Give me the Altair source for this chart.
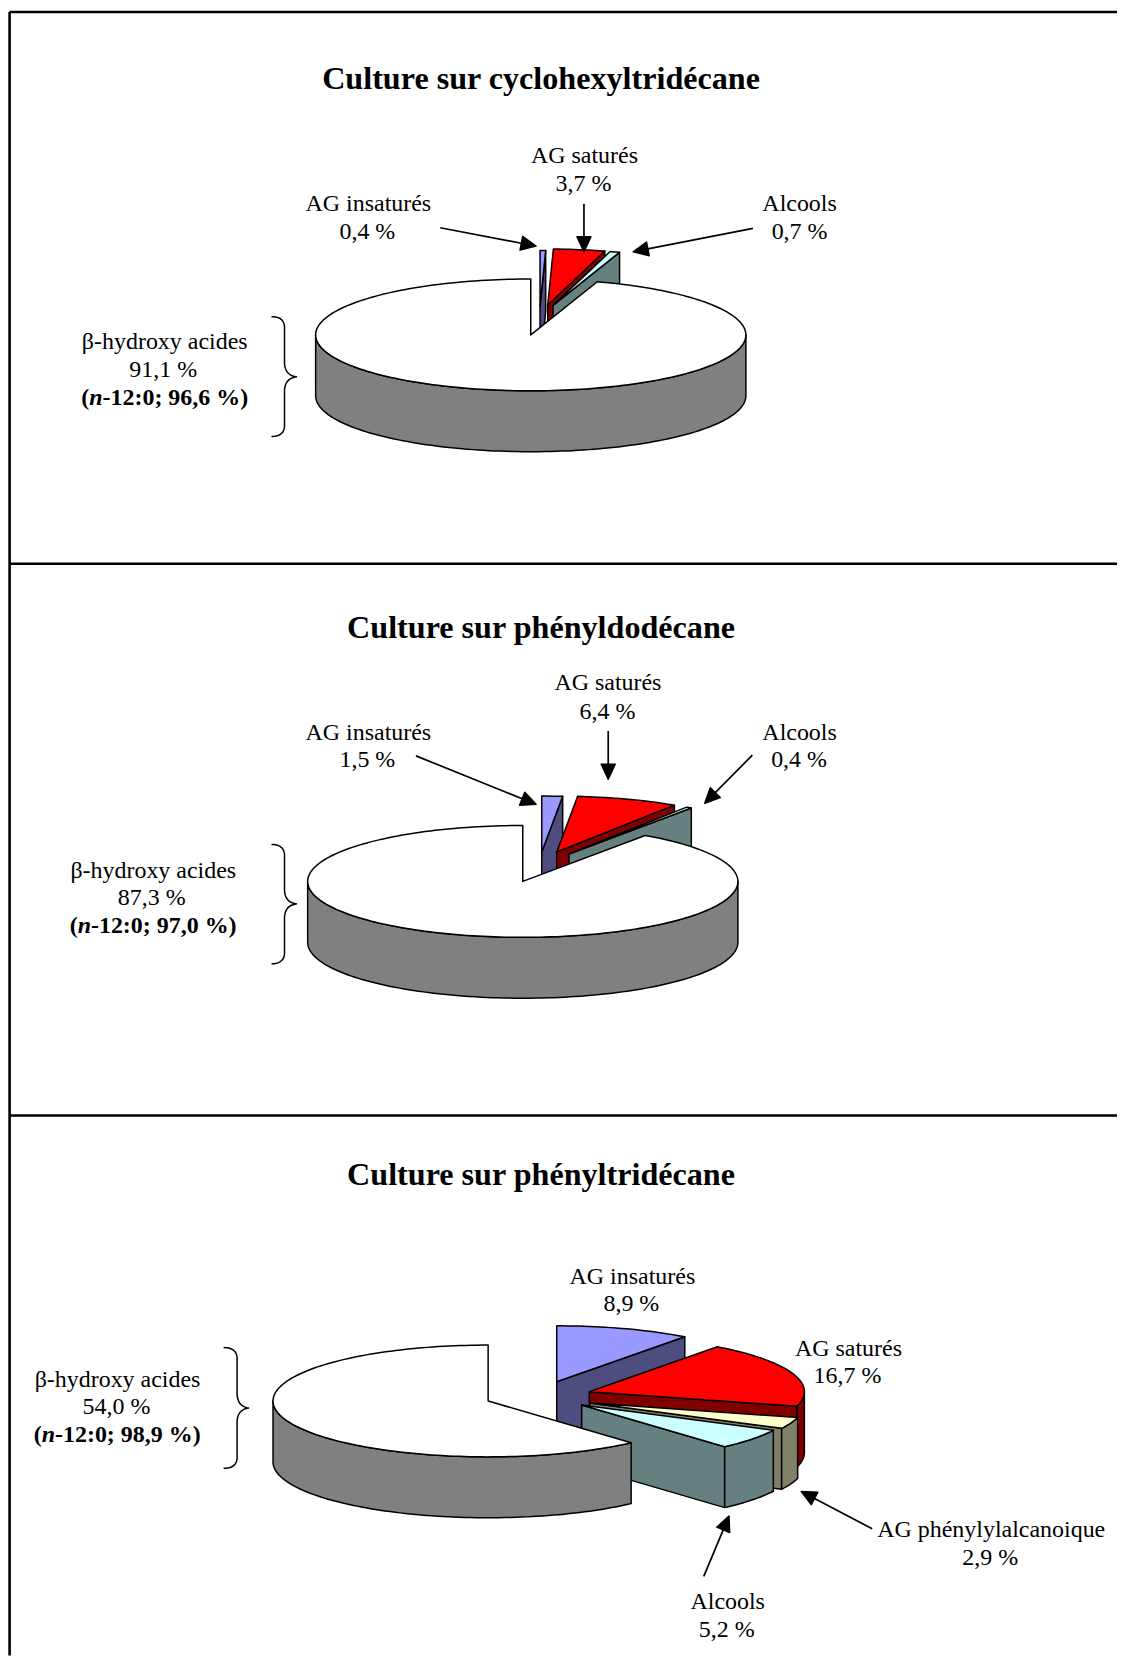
import math
import altair as alt
import pandas as pd

# ---- values ----
TITLES = ["Culture sur cyclohexyltridécane", "Culture sur phényldodécane", "Culture sur phényltridécane"]
SLICE_NAMES_1 = ["AG insaturés", "AG saturés", "Alcools", "β-hydroxy acides"]
SLICE_VALUES_1 = [0.4, 3.7, 0.7, 91.1]
SLICE_NAMES_2 = ["AG insaturés", "AG saturés", "Alcools", "β-hydroxy acides"]
SLICE_VALUES_2 = [1.5, 7.4, 0.4, 87.3]
SLICE_NAMES_3 = ["AG insaturés", "AG saturés", "AG phénylylalcanoique", "Alcools", "β-hydroxy acides"]
SLICE_VALUES_3 = [8.9, 16.7, 2.9, 5.2, 54.0]

TOP_COLORS = {"AG insaturés": "#9999FF", "AG saturés": "#FF0000", "AG phénylylalcanoique": "#FFFFCC",
              "Alcools": "#CCFFFF", "β-hydroxy acides": "#FFFFFF"}
SIDE_COLORS = {"AG insaturés": "#4D4D80", "AG saturés": "#800000", "AG phénylylalcanoique": "#808066",
               "Alcools": "#668080", "β-hydroxy acides": "#808080"}

# ---- layout (image pixels) ----
W, H = 1111, 1651
RX, RY, DEPTH = 215.5, 56, 61
APEX_1 = {"AG insaturés": (540, 305.5), "AG saturés": (547.7, 304), "Alcools": (553, 304.5), "β-hydroxy acides": (530.7, 334)}
APEX_2 = {"AG insaturés": (541.7, 852), "AG saturés": (556.7, 852), "Alcools": (569, 854), "β-hydroxy acides": (522.7, 881.5)}
APEX_3 = {"AG insaturés": (556.7, 1382.7), "AG saturés": (589.3, 1392.7), "AG phénylylalcanoique": (590, 1404),
          "Alcools": (581.7, 1406), "β-hydroxy acides": (488, 1402)}

polys = []
pid = [0]


def add_poly(pts, fill):
    pid[0] += 1
    for i, (x, y) in enumerate(pts):
        polys.append({"p": f"p{pid[0]:03d}", "i": i, "x": x, "y": y, "fill": fill})


def pie3d(names, values, apexes):
    total = sum(values)
    t = 0.0
    for name, v in zip(names, values):
        t0, t1 = t, t + v / total * 360.0
        t = t1
        cx, cy = apexes[name]

        def pt(a, dz=0.0):
            r = math.radians(a)
            return (cx + RX * math.sin(r), cy - RY * math.cos(r) + dz)

        def arc(a0, a1, dz=0.0):
            n = max(2, int(abs(a1 - a0) / 1.5) + 1)
            return [pt(a0 + (a1 - a0) * k / n, dz) for k in range(n + 1)]

        if t1 < 180:  # radial wall facing the viewer
            e = pt(t1)
            add_poly([(cx, cy), e, (e[0], e[1] + DEPTH), (cx, cy + DEPTH)], SIDE_COLORS[name])
        a0, a1 = max(t0, 90), min(t1, 270)
        if a1 > a0:  # outer wall
            add_poly(arc(a0, a1) + arc(a1, a0, DEPTH), SIDE_COLORS[name])
        add_poly([(cx, cy)] + arc(t0, t1), TOP_COLORS[name])


pie3d(SLICE_NAMES_1, SLICE_VALUES_1, APEX_1)
pie3d(SLICE_NAMES_2, SLICE_VALUES_2, APEX_2)
pie3d(SLICE_NAMES_3, SLICE_VALUES_3, APEX_3)

ARROWS = [
    (440, 226.7, 536, 245), (584, 202.7, 584, 250.7), (753.3, 227.3, 633.3, 250.7),
    (415.7, 755.7, 536, 804.3), (608.3, 730.7, 608.3, 779), (752.7, 755, 705, 803.3),
    (872.7, 1530, 801.7, 1492.7), (704, 1577.7, 729.3, 1517.3),
]
shafts = []
for x0, y0, x1, y1 in ARROWS:
    L = math.hypot(x1 - x0, y1 - y0)
    ux, uy = (x1 - x0) / L, (y1 - y0) / L
    bx, by = x1 - 15 * ux, y1 - 15 * uy
    shafts.append({"x": x0, "y": y0, "x2": bx, "y2": by})
    add_poly([(x1, y1), (bx - 7 * uy, by + 7 * ux), (bx + 7 * uy, by - 7 * ux)], "#000000")

BRACES = [(271, 284, 296.5, 315.7, 376, 435.7), (271, 284, 296.5, 844.5, 904, 964), (223, 236.5, 248.5, 1348.5, 1409, 1469.5)]
brace_rows = []


def quad(p0, c, p1, n=10):
    return [((1 - s) ** 2 * p0[0] + 2 * s * (1 - s) * c[0] + s * s * p1[0],
             (1 - s) ** 2 * p0[1] + 2 * s * (1 - s) * c[1] + s * s * p1[1]) for s in [k / n for k in range(n + 1)]]


for b, (xa, xm, xt, ya, ym, yb) in enumerate(BRACES):
    pts = (quad((xa, ya), (xm + 1, ya), (xm, ya + 13)) + quad((xm, ym - 13), (xm + 1, ym - 1), (xt, ym))
           + quad((xt, ym), (xm + 1, ym + 1), (xm, ym + 13)) + quad((xm, yb - 13), (xm + 1, yb), (xa, yb)))
    for i, (x, y) in enumerate(pts):
        brace_rows.append({"b": f"b{b}", "i": i, "x": x, "y": y})

LABELS = [
    ("AG saturés", 584.5, 161.5), ("3,7 %", 583.5, 190), ("AG insaturés", 368, 210), ("0,4 %", 367, 237.5),
    ("Alcools", 800, 210), ("0,7 %", 800, 237.5), ("β-hydroxy acides", 164, 348), ("91,1 %", 162.5, 376),
    ("AG saturés", 608, 689.5), ("6,4 %", 607.5, 719), ("AG insaturés", 368, 739.5), ("1,5 %", 367, 766.5),
    ("Alcools", 800, 739.5), ("0,4 %", 799.5, 766.5), ("β-hydroxy acides", 152.5, 878), ("87,3 %", 151, 905),
    ("AG insaturés", 632.5, 1285), ("8,9 %", 631.5, 1312), ("AG saturés", 849, 1357), ("16,7 %", 848, 1384),
    ("AG phénylylalcanoique", 992, 1538), ("2,9 %", 991, 1566), ("Alcools", 728, 1610), ("5,2 %", 727, 1638),
    ("β-hydroxy acides", 116.7, 1387.5), ("54,0 %", 115.7, 1415.5),
]
BOLD_PARTS = [(80.4, 404, "96,6"), (68.8, 933, "97,0"), (32.8, 1443.5, "98,9")]
TITLE_POS = [(541, 87.8), (541, 637.5), (541, 1186)]

bold_rows, ital_rows = [], []
for x0, y0, val in BOLD_PARTS:
    bold_rows.append({"t": "(", "x": x0, "y": y0})
    ital_rows.append({"t": "n", "x": x0 + 8, "y": y0})
    bold_rows.append({"t": f"-12:0; {val} %)", "x": x0 + 21.3, "y": y0})

FRAME = [(8.5, 10.5, 1118, 10.5), (8.5, 563.2, 1118, 563.2), (8.5, 1116, 1118, 1116), (8.6, 10.5, 8.6, 1657)]

X = alt.X("x:Q", scale=alt.Scale(domain=[8, 8 + W], range=[0, W], nice=False, zero=False), axis=None)
Y = alt.Y("y:Q", scale=alt.Scale(domain=[8, 8 + H], range=[0, H], nice=False, zero=False), axis=None)
FONT = "Liberation Serif"

polygons = alt.Chart(pd.DataFrame(polys)).mark_line(
    interpolate="linear-closed", stroke="black", strokeWidth=1.5, strokeJoin="round"
).encode(x=X, y=Y, fill=alt.Fill("fill:N", scale=None, legend=None), detail="p:N", order="i:Q")

shaft_layer = alt.Chart(pd.DataFrame(shafts)).mark_rule(color="black", strokeWidth=1.7).encode(x=X, y=Y, x2="x2:Q", y2="y2:Q")

frame_layer = alt.Chart(pd.DataFrame(FRAME, columns=["x", "y", "x2", "y2"])).mark_rule(color="black", strokeWidth=2.6).encode(
    x=X, y=Y, x2="x2:Q", y2="y2:Q")

brace_layer = alt.Chart(pd.DataFrame(brace_rows)).mark_line(color="black", strokeWidth=1.5).encode(
    x=X, y=Y, detail="b:N", order="i:Q")

label_layer = alt.Chart(pd.DataFrame(LABELS, columns=["t", "x", "y"])).mark_text(
    font=FONT, fontSize=24, align="center", baseline="alphabetic", color="black").encode(x=X, y=Y, text="t:N")

bold_layer = alt.Chart(pd.DataFrame(bold_rows)).mark_text(
    font=FONT, fontSize=24, fontWeight="bold", align="left", baseline="alphabetic", color="black").encode(x=X, y=Y, text="t:N")

ital_layer = alt.Chart(pd.DataFrame(ital_rows)).mark_text(
    font=FONT, fontSize=24, fontWeight="bold", fontStyle="italic", align="left", baseline="alphabetic", color="black"
).encode(x=X, y=Y, text="t:N")

title_layer = alt.Chart(pd.DataFrame([{"t": t, "x": p[0], "y": p[1]} for t, p in zip(TITLES, TITLE_POS)])).mark_text(
    font=FONT, fontSize=32.2, fontWeight="bold", align="center", baseline="alphabetic", color="black").encode(x=X, y=Y, text="t:N")

chart = alt.layer(frame_layer, polygons, shaft_layer, brace_layer, label_layer, bold_layer, ital_layer, title_layer).properties(
    width=W, height=H, padding=0, background="white"
).configure_view(stroke=None)

chart.save("out.html", embed_options={"renderer": "svg", "actions": False})
